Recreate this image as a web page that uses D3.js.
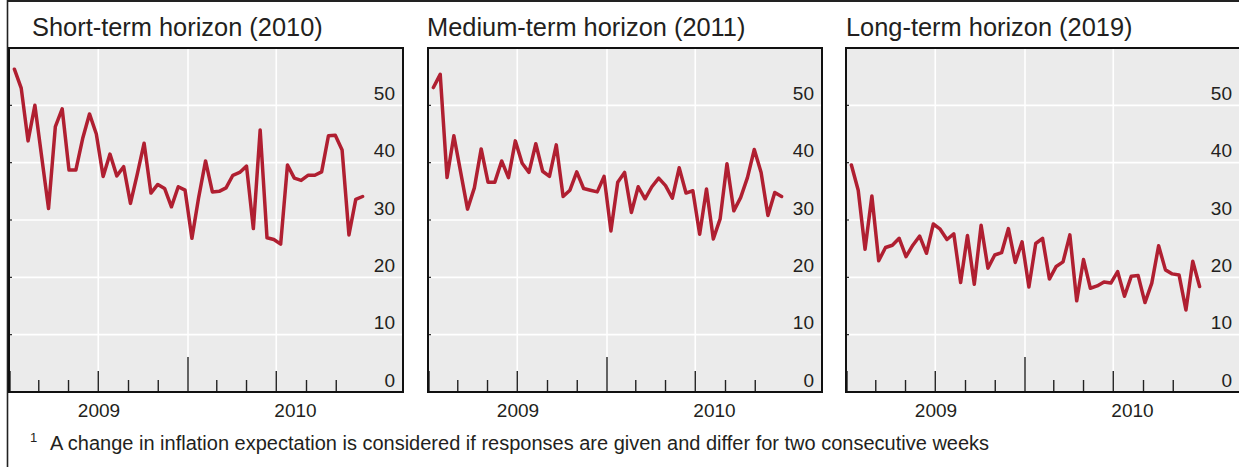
<!DOCTYPE html>
<html>
<head>
<meta charset="utf-8">
<script src="https://cdn.jsdelivr.net/npm/d3@7"></script>
<style>
  html, body { margin: 0; padding: 0; background: #ffffff; }
  svg { display: block; font-family: "Liberation Sans", Arial, Helvetica, sans-serif; }
</style>
</head>
<body>
<svg id="chart" width="1239" height="467"></svg>
<script>
// ---- data ----
const titles = ["Short-term horizon (2010)", "Medium-term horizon (2011)", "Long-term horizon (2019)"];
const surveyStart = "2009-01-10";   // first bi-weekly survey
const surveyStepDays = 14;
const shortTerm = [56.3, 53.0, 43.8, 50.0, 41.0, 32.0, 46.3, 49.4, 38.7, 38.7,
  44.2, 48.5, 45.0, 37.6, 41.5, 37.7, 39.3, 32.9, 38.0, 43.4,
  34.7, 36.2, 35.5, 32.3, 35.8, 35.2, 26.8, 34.0, 40.3, 34.9,
  35.0, 35.6, 37.8, 38.3, 39.4, 28.5, 45.7, 26.9, 26.6, 25.8,
  39.6, 37.3, 36.9, 37.8, 37.8, 38.4, 44.7, 44.8, 42.2, 27.4,
  33.6, 34.1];
const mediumTerm = [53.1, 55.4, 37.4, 44.7, 38.3, 31.9, 35.6, 42.4, 36.6, 36.6,
  40.3, 37.4, 43.8, 39.9, 38.3, 43.3, 38.5, 37.6, 43.1, 34.1,
  35.2, 38.4, 35.5, 35.2, 34.9, 37.6, 28.1, 36.6, 38.3, 31.3,
  35.8, 33.7, 35.8, 37.3, 36.0, 33.8, 39.1, 34.7, 35.1, 27.5,
  35.4, 26.7, 30.2, 39.8, 31.6, 33.9, 37.4, 42.3, 38.3, 30.8,
  34.8, 34.1];
const longTerm = [39.6, 35.2, 24.9, 34.2, 22.9, 25.2, 25.6, 26.8, 23.6, 25.6,
  27.2, 24.2, 29.3, 28.4, 26.6, 27.6, 19.1, 27.3, 18.8, 29.1,
  21.6, 23.9, 24.3, 28.5, 22.6, 26.2, 18.3, 25.9, 26.8, 19.7,
  21.9, 22.7, 27.4, 15.9, 23.1, 18.1, 18.5, 19.2, 19.0, 21.0,
  16.7, 20.2, 20.3, 15.6, 19.0, 25.5, 21.3, 20.6, 20.4, 14.3,
  22.8, 18.4];
const seriesList = [shortTerm, mediumTerm, longTerm];
const yTicks = [0, 10, 20, 30, 40, 50];
const yearLabels = ["2009", "2010"];
const footnoteMark = "1";
const footnoteText = "A change in inflation expectation is considered if responses are given and differ for two consecutive weeks";

// ---- layout ----
const W = 1239, H = 467;
const plotLefts = [9, 428, 846];
const titleX = [32, 427, 846];
const plotTop = 48, plotW = 394, plotH = 344;
const lineColor = "#b01f31";
const utc = (y, m, d) => new Date(Date.UTC(y, m, d));

const svg = d3.select("#chart");
const startDate = new Date(surveyStart + "T00:00:00Z");
const dates = shortTerm.map((_, i) => d3.utcDay.offset(startDate, surveyStepDays * i));

// outer frame
svg.append("line").attr("x1", 7).attr("x2", W).attr("y1", 1).attr("y2", 1)
  .attr("stroke", "#222").attr("stroke-width", 2.2);
svg.append("line").attr("x1", 7.5).attr("x2", 7.5).attr("y1", 0).attr("y2", H)
  .attr("stroke", "#222").attr("stroke-width", 1.6);

const y = d3.scaleLinear().domain([0, 60]).range([plotTop + plotH, plotTop]);

seriesList.forEach((vals, p) => {
  const left = plotLefts[p];
  const right = left + plotW;
  const bottom = plotTop + plotH;
  const x = d3.scaleUtc().domain([utc(2009, 0, 1), utc(2010, 0, 1)]).range([left + 1, left + 179]);
  const g = svg.append("g");

  // title
  g.append("text").attr("x", titleX[p]).attr("y", 36)
    .attr("font-size", 25.4).attr("fill", "#231f20").text(titles[p]);

  // background
  g.append("rect").attr("x", left).attr("y", plotTop).attr("width", plotW).attr("height", plotH)
    .attr("fill", "#ebebeb");

  // horizontal gridlines
  g.selectAll(".hg").data(yTicks.filter(t => t > 0)).join("line")
    .attr("x1", left).attr("x2", right)
    .attr("y1", d => y(d)).attr("y2", d => y(d))
    .attr("stroke", "#ffffff").attr("stroke-width", 1.6);

  // vertical gridlines (half-years)
  const vgrid = d3.utcMonth.every(6).range(utc(2009, 1, 1), utc(2010, 11, 1));
  g.selectAll(".vg").data(vgrid).join("line")
    .attr("x1", d => x(d)).attr("x2", d => x(d))
    .attr("y1", plotTop).attr("y2", bottom)
    .attr("stroke", "#ffffff").attr("stroke-width", 1.6);

  // line
  const line = d3.line().x((d, i) => x(dates[i])).y(d => y(d));
  g.append("path").datum(vals).attr("d", line)
    .attr("fill", "none").attr("stroke", lineColor).attr("stroke-width", 3.5)
    .attr("stroke-linejoin", "round").attr("stroke-linecap", "round");

  // x ticks (every two months, inside, from bottom)
  const ticks = d3.utcMonth.every(2).range(utc(2009, 0, 1), utc(2010, 11, 2));
  const tickLen = d => {
    if (d.getUTCMonth() === 0 && d.getUTCFullYear() === 2010) return 35;
    if (d.getUTCMonth() === 6 || d.getUTCMonth() === 0) return 21;
    return 12;
  };
  g.selectAll(".xt").data(ticks).join("line")
    .attr("x1", d => x(d)).attr("x2", d => x(d))
    .attr("y1", bottom).attr("y2", d => bottom - tickLen(d))
    .attr("stroke", "#222").attr("stroke-width", 1.4);

  // small left ticks at gridlines
  g.selectAll(".yt").data(yTicks.filter(t => t > 0)).join("line")
    .attr("x1", left).attr("x2", left + 3)
    .attr("y1", d => y(d)).attr("y2", d => y(d))
    .attr("stroke", "#222").attr("stroke-width", 1.2);

  // border
  g.append("rect").attr("x", left).attr("y", plotTop).attr("width", plotW).attr("height", plotH)
    .attr("fill", "none").attr("stroke", "#111").attr("stroke-width", 2);

  // y labels (inside, right)
  g.selectAll(".yl").data(yTicks).join("text")
    .attr("x", right - 8).attr("y", d => y(d) - 5.5)
    .attr("text-anchor", "end").attr("font-size", 19).attr("fill", "#231f20")
    .text(d => d);

  // year labels
  const endDate = x.invert(right);
  const yearPos = [
    x(new Date((utc(2009, 0, 1).getTime() + utc(2010, 0, 1).getTime()) / 2)),
    x(new Date((utc(2010, 0, 1).getTime() + endDate.getTime()) / 2))
  ];
  g.selectAll(".yr").data(yearLabels).join("text")
    .attr("x", (d, i) => yearPos[i]).attr("y", 417)
    .attr("text-anchor", "middle").attr("font-size", 19).attr("fill", "#231f20")
    .text(d => d);
});

// footnote
svg.append("text").attr("x", 30).attr("y", 442).attr("font-size", 13).attr("fill", "#231f20").text(footnoteMark);
svg.append("text").attr("x", 50).attr("y", 450).attr("font-size", 20.0).attr("fill", "#231f20").text(footnoteText);
</script>
</body>
</html>
